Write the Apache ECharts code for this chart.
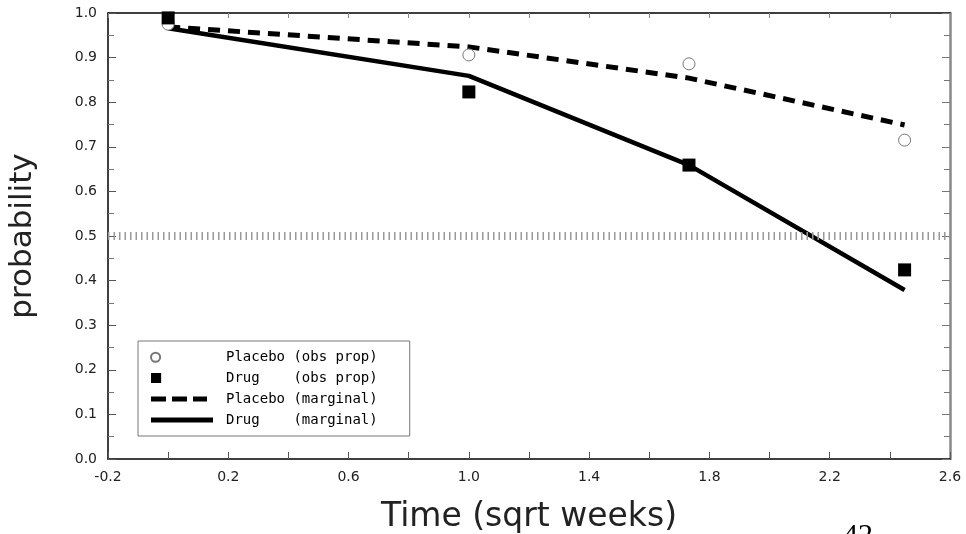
<!DOCTYPE html>
<html>
<head>
<meta charset="utf-8">
<script src="https://cdn.jsdelivr.net/npm/echarts@6/dist/echarts.min.js"></script>
<style>
  html, body { margin: 0; padding: 0; background: #fff; }
  #main { width: 966px; height: 534px; }
</style>
</head>
<body>
<div id="main"></div>
<script>
// time in sqrt(weeks): 0, 1, sqrt(3), sqrt(6)
var times = [0, 1.0, 1.732, 2.449];
var placeboObs = [0.975, 0.906, 0.886, 0.715];
var drugObs = [0.989, 0.823, 0.659, 0.424];
var placeboMarginal = [0.969, 0.924, 0.854, 0.749];
var drugMarginal = [0.966, 0.859, 0.659, 0.379];
var refLevel = 0.5;

function pairs(xs, ys) {
  return xs.map(function (x, i) { return [x, ys[i]]; });
}

var font = 'DejaVu Sans';
var dom = document.getElementById('main');
var myChart = echarts.init(dom);

// legend icons, left aligned inside a 70px slot
var iconCircle = 'path://M1,5a4.5,4.5 0 1,0 9,0a4.5,4.5 0 1,0 -9,0z M70,0';
var iconSquare = 'path://M1,0h10v10h-10z M70,0';
var iconDash = 'path://M0,0h15v5h-15z M21,0h15v5h-15z M42,0h14v5h-14z M70,0';
var iconSolid = 'path://M0,0h62v5h-62z M70,0';

var option = {
  animation: false,
  backgroundColor: '#fff',
  title: {
    text: '42',
    left: 838, top: 516,
    textStyle: { fontFamily: 'Liberation Serif', fontSize: 30, fontWeight: 'normal', color: '#000' }
  },
  grid: { left: 108, right: 16, top: 13, bottom: 75, outerBoundsMode: 'none' },
  legend: {
    orient: 'vertical',
    left: 138, top: 341,
    padding: [9, 32, 9, 12],
    itemGap: 7,
    itemWidth: 70,
    itemHeight: 12,
    itemTextGap: 6,
    borderColor: '#777',
    borderWidth: 1,
    textStyle: { fontFamily: 'DejaVu Sans Mono', fontSize: 14, color: '#000' },
    data: [
      { name: 'Placebo (obs prop)', icon: iconCircle },
      { name: 'Drug    (obs prop)', icon: iconSquare },
      { name: 'Placebo (marginal)', icon: iconDash },
      { name: 'Drug    (marginal)', icon: iconSolid }
    ]
  },
  xAxis: [{
    type: 'value', min: -0.2, max: 2.6, interval: 0.2,
    name: 'Time (sqrt weeks)', nameLocation: 'middle', nameGap: 42,
    nameTextStyle: { fontFamily: font, fontSize: 33, color: '#222' },
    axisLine: { onZero: false, lineStyle: { color: '#000', width: 1.5 } },
    axisTick: { inside: true, length: 7, lineStyle: { color: '#555' } },
    axisLabel: {
      fontFamily: font, fontSize: 14, color: '#222', margin: 11,
      formatter: function (v) {
        var k = Math.round((v + 0.2) / 0.2);
        return k % 2 === 0 ? v.toFixed(1) : '';
      }
    },
    splitLine: { show: false }
  }, {
    type: 'value', min: -0.2, max: 2.6, interval: 0.2, position: 'top',
    axisLine: { show: true, onZero: false, lineStyle: { color: '#000', width: 1.5 } },
    axisTick: { show: true, inside: true, length: 5, lineStyle: { color: '#888' } },
    axisLabel: { show: false },
    splitLine: { show: false }
  }],
  yAxis: [{
    type: 'value', min: 0, max: 1, interval: 0.1,
    name: 'probability', nameLocation: 'middle', nameGap: 70, nameRotate: 90,
    nameTextStyle: { fontFamily: font, fontSize: 31, color: '#222' },
    axisLine: { show: true, onZero: false, lineStyle: { color: '#000', width: 1.5 } },
    axisTick: { inside: true, length: 8, lineStyle: { color: '#555' } },
    minorTick: { show: true, splitNumber: 2, length: 6, lineStyle: { color: '#777' } },
    axisLabel: {
      fontFamily: font, fontSize: 14, color: '#222', margin: 11,
      formatter: function (v) { return v.toFixed(1); }
    },
    splitLine: { show: false }
  }, {
    type: 'value', min: 0, max: 1, interval: 0.1, position: 'right',
    axisLine: { show: true, onZero: false, lineStyle: { color: '#888', width: 2.5 } },
    axisTick: { show: true, inside: true, length: 8, lineStyle: { color: '#777' } },
    minorTick: { show: true, splitNumber: 2, length: 6, lineStyle: { color: '#777' } },
    axisLabel: { show: false },
    splitLine: { show: false }
  }],
  series: [
    {
      name: 'Placebo (marginal)', type: 'line',
      data: pairs(times, placeboMarginal),
      symbol: 'none', z: 3,
      itemStyle: { color: '#000' },
      lineStyle: { color: '#000', width: 5, type: [12, 8] },
      markLine: {
        silent: true, symbol: 'none', label: { show: false },
        lineStyle: { color: '#999', width: 8, type: [1.5, 4] },
        data: [{ yAxis: refLevel }]
      }
    },
    {
      name: 'Drug    (marginal)', type: 'line',
      data: pairs(times, drugMarginal),
      symbol: 'none', z: 3,
      itemStyle: { color: '#000' },
      lineStyle: { color: '#000', width: 4.5 }
    },
    {
      name: 'Placebo (obs prop)', type: 'scatter',
      data: pairs(times, placeboObs),
      symbol: 'circle', symbolSize: 12, z: 4,
      itemStyle: { color: '#fff', borderColor: '#777', borderWidth: 1, opacity: 1 }
    },
    {
      name: 'Drug    (obs prop)', type: 'scatter',
      data: pairs(times, drugObs),
      symbol: 'rect', symbolSize: 13, z: 5,
      itemStyle: { color: '#000', opacity: 1 }
    }
  ]
};

myChart.setOption(option);
</script>
</body>
</html>
